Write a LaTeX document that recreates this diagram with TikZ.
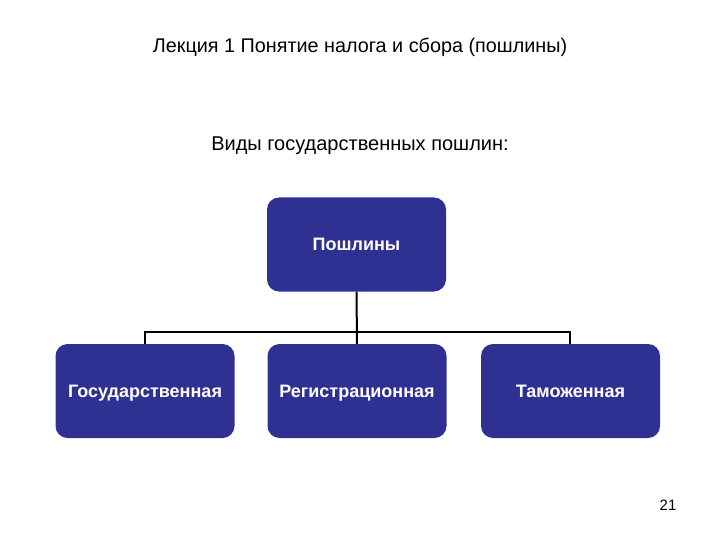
\documentclass[tikz,border=0pt]{standalone}
\usepackage{fontspec}
\setmainfont{Liberation Sans}
\definecolor{boxblue}{HTML}{2E3192}
\begin{document}
\begin{tikzpicture}[x=1pt,y=-1pt,
  box/.style={draw=none,fill=boxblue,rounded corners=12pt,minimum width=179pt,minimum height=94pt,inner sep=0pt,text=white,text height=12pt,text depth=0pt,font=\fontsize{18}{21}\selectfont\bfseries},
  ttl/.style={font=\fontsize{19.8}{23}\selectfont,text=black},
  conn/.style={draw=black,line width=2pt}]
\useasboundingbox (0,0) rectangle (720,540);
\node[ttl] (title) at (360,47) {Лекция 1 Понятие налога и сбора (пошлины)};
\node[ttl,font=\fontsize{20}{23}\selectfont] (sub) at (360,146) {Виды государственных пошлин:};
\node[box] (top) at (356.5,244.5) {Пошлины};
\node[box] (b1) at (145,391) {Государственная};
\node[box] (b2) at (357,391) {Регистрационная};
\node[box] (b3) at (570.5,391) {Таможенная};
\coordinate (hl) at (145,332);
\coordinate (hr) at (570,332);
\draw[conn] (top.south) -- (b2.north);
\draw[conn] (b1.north -| hl) -- (hl) -- (hr) -- (b3.north -| hr);
\node[font=\fontsize{15}{18}\selectfont] (num) at (668,505) {21};
\end{tikzpicture}
\end{document}
